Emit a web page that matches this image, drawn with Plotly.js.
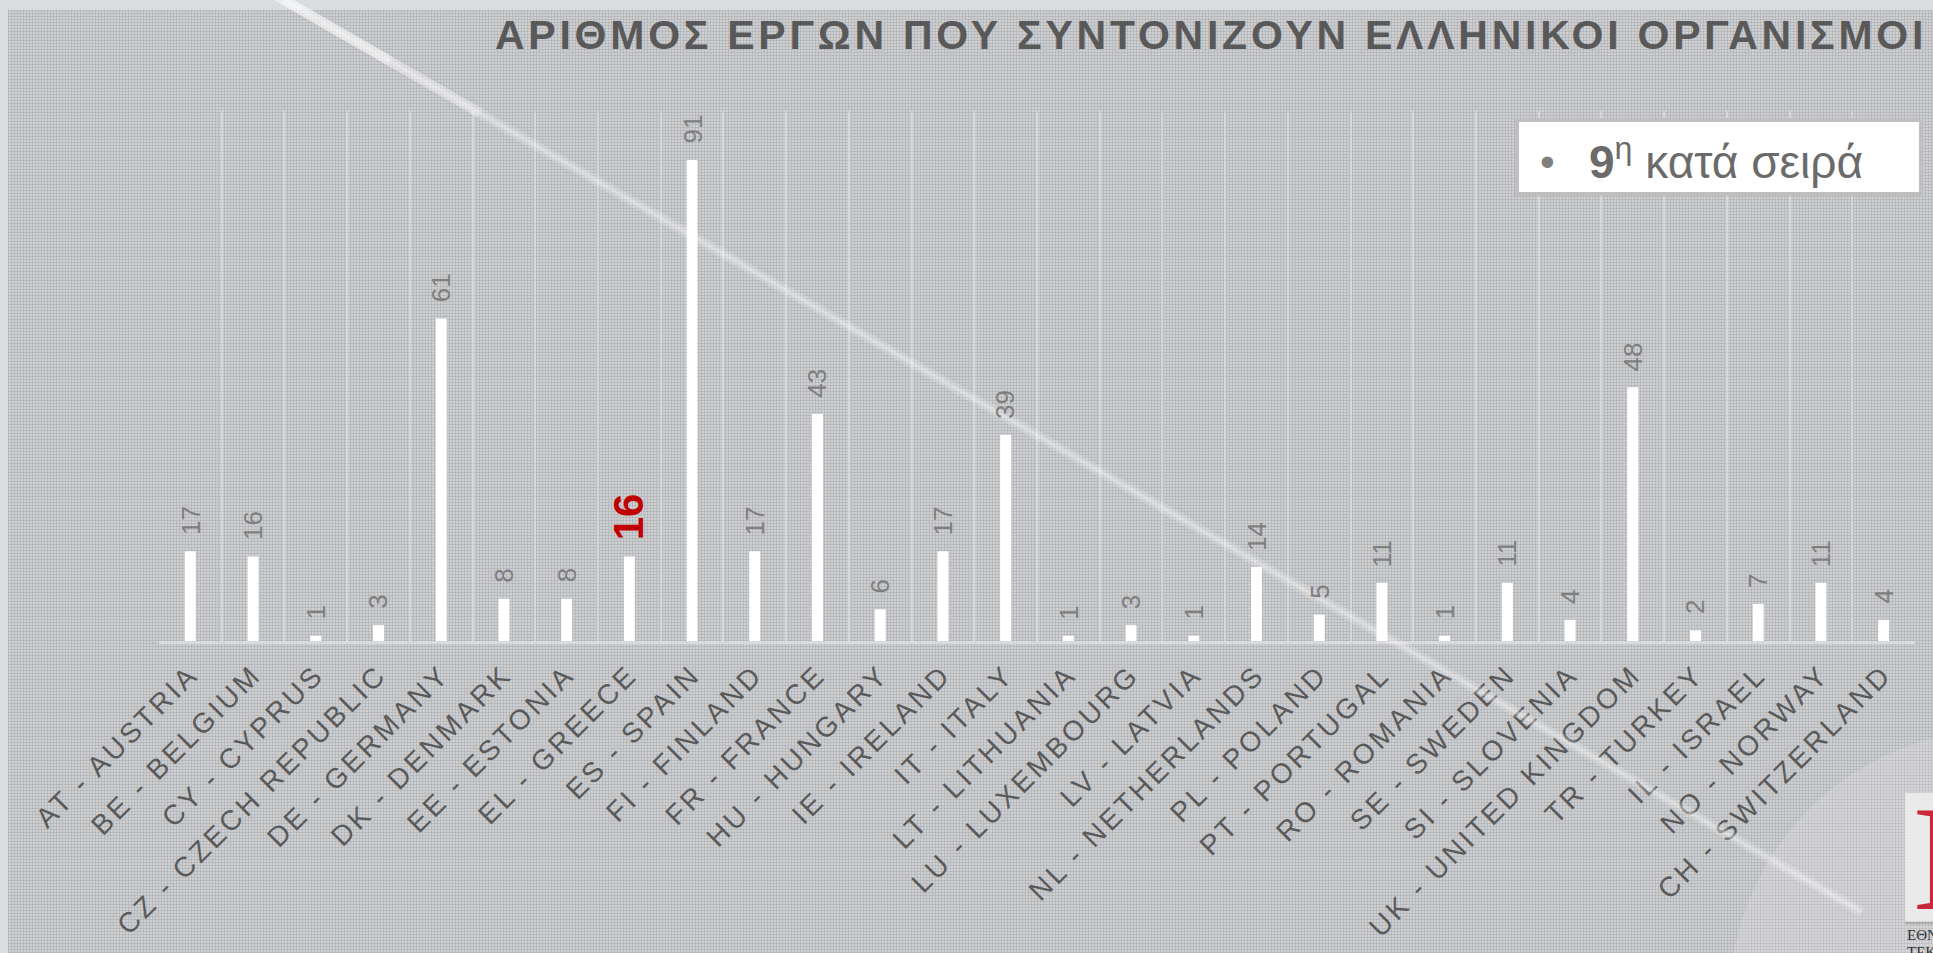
<!DOCTYPE html>
<html>
<head>
<meta charset="utf-8">
<script src="https://cdn.plot.ly/plotly-3.0.1.min.js"></script>
<style>
  html, body { margin: 0; padding: 0; background: #dadde0; }
  #fondo {
    position: absolute; left: 8px; top: 10px; width: 1925px; height: 943px;
    background-color: #cdcfd1;
    background-image: linear-gradient(to right, rgba(160,162,166,0.4) 1px, transparent 1px),
                      linear-gradient(to bottom, rgba(160,162,166,0.4) 1px, transparent 1px);
    background-size: 3px 3px;
  }
  #grafica { position: absolute; left: 0; top: 0; width: 1933px; height: 953px; }
  .xtick text { letter-spacing: 3.2px; }
</style>
</head>
<body>
<div id="fondo"></div>
<div id="grafica"></div>
<script>
var paises = ['AT - AUSTRIA', 'BE - BELGIUM', 'CY - CYPRUS', 'CZ - CZECH REPUBLIC', 'DE - GERMANY',
  'DK - DENMARK', 'EE - ESTONIA', 'EL - GREECE', 'ES - SPAIN', 'FI - FINLAND', 'FR - FRANCE',
  'HU - HUNGARY', 'IE - IRELAND', 'IT - ITALY', 'LT - LITHUANIA', 'LU - LUXEMBOURG', 'LV - LATVIA',
  'NL - NETHERLANDS', 'PL - POLAND', 'PT - PORTUGAL', 'RO - ROMANIA', 'SE - SWEDEN', 'SI - SLOVENIA',
  'UK - UNITED KINGDOM', 'TR - TURKEY', 'IL - ISRAEL', 'NO - NORWAY', 'CH - SWITZERLAND'];
var proyectos = [17, 16, 1, 3, 61, 8, 8, 16, 91, 17, 43, 6, 17, 39, 1, 3, 1, 14, 5, 11, 1, 11, 4, 48, 2, 7, 11, 4];
var destacado = 'EL - GREECE';

var titulo = 'ΑΡΙΘΜΟΣ ΕΡΓΩΝ ΠΟΥ ΣΥΝΤΟΝΙΖΟΥΝ ΕΛΛΗΝΙΚΟΙ ΟΡΓΑΝΙΣΜΟΙ';
var posicion = '<b>9</b><sup>η</sup> κατά σειρά';

// plot area: x 159..1915, y 111..641 (pixels)
function px(x) { return (x - 159) / 1756; }
function py(y) { return (641 - y) / 530; }

var trace1 = {
    type: 'bar',
    x: paises,
    y: proyectos,
    width: 0.175,
    marker: { color: '#ffffff', line: { width: 0 } },
    hoverinfo: 'skip'
};

var etiquetas = paises.map(function(p, i) {
    var esGrecia = p === destacado;
    return {
        x: p, y: proyectos[i], xref: 'x', yref: 'y',
        text: esGrecia ? '<b>' + proyectos[i] + '</b>' : String(proyectos[i]),
        showarrow: false, textangle: -90,
        xanchor: 'center', yanchor: 'bottom', yshift: 14,
        font: { family: 'Liberation Sans, Arial', size: esGrecia ? 42 : 26, color: esGrecia ? '#c00000' : '#7f7f7f' }
    };
});

var extras = [
    {
        x: px(493), y: py(35), xref: 'paper', yref: 'paper', xanchor: 'left', yanchor: 'middle',
        text: '<span style="letter-spacing:3.75px">' + titulo + '</span>', showarrow: false,
        font: { family: 'Liberation Sans, Arial', size: 41, color: '#595959', weight: 'bold' }
    },
    {
        x: px(1547), y: py(161), xref: 'paper', yref: 'paper', xanchor: 'center', yanchor: 'middle',
        text: '•', showarrow: false,
        font: { family: 'Liberation Sans, Arial', size: 42, color: '#7f7f7f' }
    },
    {
        x: px(1587), y: py(159), xref: 'paper', yref: 'paper', xanchor: 'left', yanchor: 'middle',
        text: posicion, showarrow: false,
        font: { family: 'Liberation Sans, Arial', size: 46, color: '#6b6b6b' }
    },
    {
        x: px(1911), y: py(858), xref: 'paper', yref: 'paper', xanchor: 'left', yanchor: 'middle',
        text: 'Ε', showarrow: false,
        font: { family: 'Liberation Serif, Times New Roman', size: 150, color: '#c8283a' }
    },
    {
        x: px(1905), y: py(935), xref: 'paper', yref: 'paper', xanchor: 'left', yanchor: 'middle',
        text: 'ΕΘΝ', showarrow: false,
        font: { family: 'Liberation Serif, Times New Roman', size: 15, color: '#333333' }
    },
    {
        x: px(1905), y: py(952), xref: 'paper', yref: 'paper', xanchor: 'left', yanchor: 'middle',
        text: 'ΤΕΚ', showarrow: false,
        font: { family: 'Liberation Serif, Times New Roman', size: 15, color: '#333333' }
    }
];

var formas = [
    // brillo circular abajo a la derecha
    { type: 'circle', xref: 'paper', yref: 'paper', x0: px(1730), x1: px(2270), y0: py(730), y1: py(1270),
      fillcolor: 'rgba(255,255,255,0.16)', line: { width: 0 }, layer: 'below' },
    // caja del logo
    { type: 'rect', xref: 'paper', yref: 'paper', x0: px(1905), x1: px(1960), y0: py(793), y1: py(922),
      fillcolor: 'rgba(238,238,240,0.85)', line: { width: 0 }, layer: 'below' },
    { type: 'line', xref: 'paper', yref: 'paper', x0: px(1905), x1: px(1960), y0: py(923), y1: py(923),
      line: { color: 'rgba(120,120,120,0.35)', width: 3 }, layer: 'below' },
    // linea diagonal
    { type: 'line', xref: 'paper', yref: 'paper', x0: px(284), y0: py(0), x1: px(1862), y1: py(912),
      line: { color: 'rgba(255,255,255,0.2)', width: 10 }, layer: 'above' },
    { type: 'line', xref: 'paper', yref: 'paper', x0: px(284), y0: py(0), x1: px(1862), y1: py(912),
      line: { color: 'rgba(255,255,255,0.25)', width: 4 }, layer: 'above' },
    { type: 'line', xref: 'paper', yref: 'paper', x0: px(270), y0: py(-8), x1: px(480), y1: py(113),
      line: { color: 'rgba(255,255,255,0.25)', width: 10 }, layer: 'above' },
    { type: 'line', xref: 'paper', yref: 'paper', x0: px(270), y0: py(-8), x1: px(390), y1: py(61),
      line: { color: 'rgba(255,255,255,0.3)', width: 10 }, layer: 'above' },
    // recuadro "9η κατά σειρά"
    { type: 'rect', xref: 'paper', yref: 'paper', x0: px(1517), x1: px(1921), y0: py(120), y1: py(194),
      fillcolor: '#ffffff', line: { color: '#bfbfbf', width: 4 }, layer: 'above' }
];

var layout = {
    width: 1933,
    height: 953,
    margin: { l: 159, r: 18, t: 111, b: 312, pad: 0 },
    paper_bgcolor: 'rgba(0,0,0,0)',
    plot_bgcolor: 'rgba(0,0,0,0)',
    showlegend: false,
    font: { family: 'Liberation Sans, Arial', color: '#555555' },
    xaxis: {
        type: 'category',
        tickson: 'boundaries',
        showgrid: true, gridcolor: '#d6d7d8', gridwidth: 2,
        showline: true, linecolor: '#d9dadb', linewidth: 3,
        ticks: '', tickangle: -45, ticklabelstandoff: 3,
        tickfont: { family: 'Liberation Sans, Arial', size: 28, color: '#5a5a5a' },
        range: [-0.5, 27.5]
    },
    yaxis: {
        range: [0, 100.27],
        showgrid: false, zeroline: false, showline: false, showticklabels: false, ticks: ''
    },
    annotations: etiquetas.concat(extras),
    shapes: formas
};

Plotly.newPlot('grafica', [trace1], layout, { displayModeBar: false, staticPlot: true });
</script>
</body>
</html>
